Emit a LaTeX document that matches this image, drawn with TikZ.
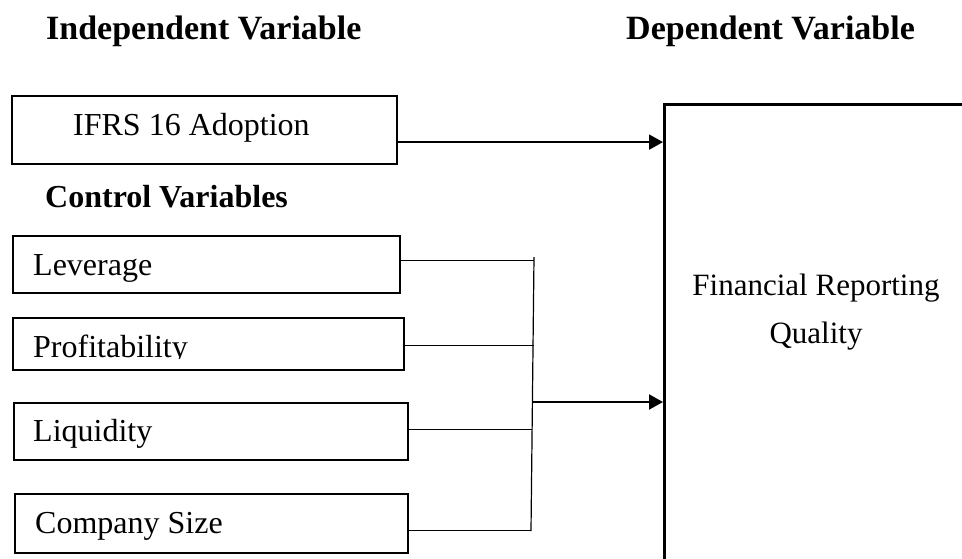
\documentclass[tikz,border=0pt]{standalone}
\usepackage{fontspec}
\setmainfont{Liberation Serif}
\usetikzlibrary{arrows.meta}
\begin{document}
\begin{tikzpicture}[x=1pt,y=-1pt,
  varbox/.style={draw, line width=2.2pt, rectangle, inner sep=0pt, anchor=north west},
  bodytext/.style={font=\fontsize{32}{38}\selectfont, inner sep=0pt, anchor=base west},
  resulttext/.style={font=\fontsize{31}{37}\selectfont, inner sep=0pt, anchor=base},
  headtext/.style={font=\fontsize{34}{40}\selectfont\bfseries, inner sep=0pt, anchor=base west},
  thinlink/.style={line width=1.2pt},
  arrowlink/.style={line width=2pt, -{Triangle[length=14pt,width=15pt]}}
]
\useasboundingbox (0,0) rectangle (962,558);
\clip (0,0) rectangle (962,558);

% headings
\node[headtext] (indephead) at (46,39) {Independent Variable};
\node[headtext] (dephead) at (626,39) {Dependent Variable};
\node[headtext, font=\fontsize{32}{38}\selectfont\bfseries] (ctrlhead) at (45,207) {Control Variables};

% independent variable
\node[varbox, minimum width=385pt, minimum height=68pt] (ifrs) at (11,95) {};
\node[bodytext] (ifrslabel) at (73,135) {IFRS 16 Adoption};

% control variables
\node[varbox, minimum width=387pt, minimum height=57pt] (lev) at (12,235) {};
\node[bodytext] (levlabel) at (33,275) {Leverage};

\node[varbox, minimum width=391pt, minimum height=52pt] (prof) at (12,317) {};
\begin{scope}
  \clip (14,319) rectangle (401,358.5);
  \node[bodytext] (proflabel) at (33,357) {Profitability};
\end{scope}

\node[varbox, minimum width=394pt, minimum height=57pt] (liq) at (13,402) {};
\node[bodytext] (liqlabel) at (33,441) {Liquidity};

\node[varbox, minimum width=393pt, minimum height=59pt] (comp) at (14,493) {};
\node[bodytext] (complabel) at (35,533) {Company Size};

% dependent variable (box runs past the right and bottom edges)
\node[varbox, line width=2.5pt, minimum width=400pt, minimum height=500pt] (frq) at (663,103) {};
\node[resulttext] (frqline1) at (816,295) {Financial Reporting};
\node[resulttext] (frqline2) at (816,343) {Quality};

% main effect
\draw[arrowlink] ([yshift=-12pt]ifrs.east) -- ([yshift=-12pt]ifrs.east -| frq.west);

% control variables joined on a bus
\coordinate (bustop) at (534,257);
\coordinate (busbot) at (531,531);
\coordinate (busjoin) at (532,402);
\draw[thinlink] (bustop) -- (busbot);
\draw[thinlink] ([yshift=4.5pt]lev.east) -- ([yshift=4.5pt]lev.east -| bustop);
\draw[thinlink] ([yshift=-1pt]prof.east) -- ([yshift=-1pt]prof.east -| bustop);
\draw[thinlink] ([yshift=2.5pt]liq.east) -- ([yshift=2.5pt]liq.east -| busjoin);
\draw[thinlink] ([yshift=-6.5pt]comp.east) -- ([yshift=-6.5pt]comp.east -| busbot);
\draw[arrowlink] (busjoin) -- (busjoin -| frq.west);
\end{tikzpicture}
\end{document}
